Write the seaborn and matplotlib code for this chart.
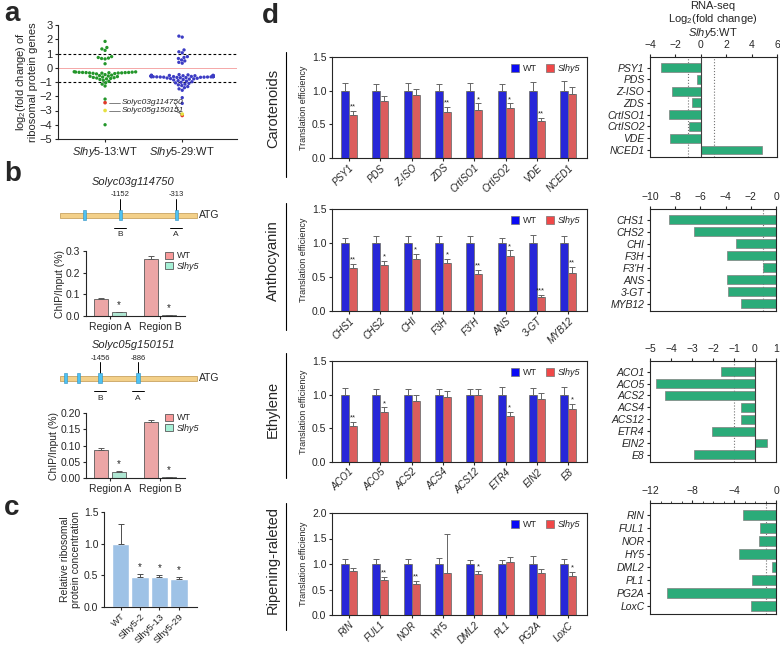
import numpy as np
import pandas as pd
import matplotlib
matplotlib.use('Agg')
import matplotlib.pyplot as plt
from matplotlib.patches import Patch, Rectangle
import seaborn as sns

# ---------------- panel a: log2 fold change of ribosomal protein genes ----------------
rp_13 = [1.85, 1.42, 1.32, 1.22, 0.78, 0.72, 0.68, 0.65, 0.62, 0.28,
         -0.30, -0.32, -0.34, -0.36, -0.38, -0.31, -0.33, -0.35, -0.37, -0.39,
         -0.29, -0.33, -0.36, -0.41, -0.34, -0.28, -0.43,
         -0.48, -0.52, -0.55, -0.58, -0.60, -0.62, -0.65, -0.68, -0.70, -0.72,
         -0.75, -0.78, -0.82, -0.88, -0.95, -1.05, -1.15, -1.28, -2.2, -4.0]
rp_29 = [2.22, 2.15, 1.25, 1.12, 1.05, 0.78, 0.72, 0.65, 0.55, 0.48, 0.38, 0.32,
         -0.55, -0.56, -0.57, -0.58, -0.59, -0.60, -0.61, -0.62, -0.63, -0.64,
         -0.55, -0.57, -0.59, -0.61, -0.63, -0.65, -0.67, -0.58, -0.60, -0.62,
         -0.54, -0.56, -0.60, -0.62, -0.64, -0.66, -0.68, -0.70, -0.58, -0.61,
         -0.53, -0.59, -0.63, -0.65, -0.57, -0.60, -0.62, -0.66, -0.69, -0.72,
         -0.50, -0.52, -0.48, -0.74, -0.76,
         -0.78, -0.80, -0.83, -0.86, -0.90, -0.94, -0.98, -1.02, -1.06, -1.10,
         -1.15, -1.20, -1.25, -1.32, -1.40, -1.48, -1.58, -2.1, -2.5]
special_names = ['Solyc03g114750', 'Solyc05g150151']
special_13 = [-2.45, -3.0]
special_29 = [-3.35, -3.25]
special_colors = ['#E03A2A', '#E6E040']

# ---------------- panel b: ChIP ----------------
chip_regions = ['Region A', 'Region B']
chip1_wt, chip1_wt_err = [0.078, 0.262], [0.006, 0.014]
chip1_mut, chip1_mut_err = [0.017, 0.005], [0.003, 0.001]
chip2_wt, chip2_wt_err = [0.087, 0.172], [0.006, 0.007]
chip2_mut, chip2_mut_err = [0.020, 0.003], [0.002, 0.001]
gene1_boxes = [-1693, -1152, -313]
gene1_sites = [-1152, -313]
gene2_boxes = [-1967, -1777, -1456, -886]
gene2_sites = [-1456, -886]
site_regions = ['B', 'A']

# ---------------- panel c ----------------
strains = ['WT', 'Slhy5-2', 'Slhy5-13', 'Slhy5-29']
rp_conc = [1.0, 0.48, 0.48, 0.44]
rp_conc_err = [0.31, 0.04, 0.025, 0.035]
rp_conc_sig = ['', '*', '*', '*']

# ---------------- panel d: translation efficiency ----------------
car_genes = ['PSY1', 'PDS', 'Z-ISO', 'ZDS', 'CrtISO1', 'CrtISO2', 'VDE', 'NCED1']
car_wt = [1.0, 1.0, 1.0, 1.0, 1.0, 1.0, 1.0, 1.0]
car_wt_err = [0.11, 0.10, 0.11, 0.10, 0.11, 0.10, 0.13, 0.15]
car_mut = [0.64, 0.85, 0.94, 0.68, 0.72, 0.75, 0.55, 0.95]
car_mut_err = [0.06, 0.07, 0.08, 0.08, 0.09, 0.06, 0.05, 0.10]
car_sig = ['**', '', '', '**', '*', '*', '**', '']
car_rna = [-3.1, -0.3, -2.3, -0.7, -2.5, -0.9, -2.4, 4.8]

ant_genes = ['CHS1', 'CHS2', 'CHI', 'F3H', "F3'H", 'ANS', '3-GT', 'MYB12']
ant_wt = [1.0, 1.0, 1.0, 1.0, 1.0, 1.0, 1.0, 1.0]
ant_wt_err = [0.08, 0.10, 0.10, 0.10, 0.10, 0.08, 0.12, 0.10]
ant_mut = [0.63, 0.67, 0.77, 0.70, 0.55, 0.81, 0.21, 0.56]
ant_mut_err = [0.06, 0.07, 0.07, 0.06, 0.05, 0.08, 0.02, 0.09]
ant_sig = ['**', '*', '*', '*', '**', '*', '***', '**']
ant_rna = [-8.5, -6.5, -3.2, -3.9, -1.0, -3.9, -3.8, -2.8]

eth_genes = ['ACO1', 'ACO5', 'ACS2', 'ACS4', 'ACS12', 'ETR4', 'EIN2', 'E8']
eth_wt = [1.0, 1.0, 1.0, 1.0, 1.0, 1.0, 1.0, 1.0]
eth_wt_err = [0.10, 0.09, 0.09, 0.09, 0.09, 0.12, 0.10, 0.11]
eth_mut = [0.53, 0.74, 0.91, 0.96, 1.0, 0.69, 0.94, 0.79]
eth_mut_err = [0.06, 0.07, 0.08, 0.10, 0.08, 0.06, 0.09, 0.07]
eth_sig = ['**', '*', '', '', '', '*', '', '*']
eth_rna = [-1.6, -4.7, -4.3, -0.65, -0.65, -2.05, 0.55, -2.9]

rip_genes = ['RIN', 'FUL1', 'NOR', 'HY5', 'DML2', 'PL1', 'PG2A', 'LoxC']
rip_wt = [1.0, 1.0, 1.0, 1.0, 1.0, 1.0, 1.0, 1.0]
rip_wt_err = [0.09, 0.09, 0.09, 0.12, 0.08, 0.08, 0.15, 0.10]
rip_mut = [0.87, 0.68, 0.61, 0.83, 0.80, 1.03, 0.82, 0.77]
rip_mut_err = [0.06, 0.07, 0.06, 0.76, 0.06, 0.10, 0.08, 0.08]
rip_sig = ['', '**', '**', '', '*', '', '', '*']
rip_rna = [-3.1, -1.5, -1.6, -3.5, -0.4, -2.3, -10.4, -2.4]

BLUE, RED = '#0A0AF5', '#F04848'
TEAL = '#16C07E'
PINK, MINT = '#F89A9A', '#A6F0D6'
LIGHTBLUE = '#92C2F2'

sns.set_style('ticks')
plt.rcParams['font.family'] = ['Liberation Sans', 'DejaVu Sans']
plt.rcParams['mathtext.fontset'] = 'custom'
plt.rcParams['mathtext.rm'] = 'Liberation Sans'
plt.rcParams['mathtext.it'] = 'Liberation Sans:italic'
plt.rcParams['axes.linewidth'] = 0.8
plt.rcParams['xtick.major.width'] = 0.8
plt.rcParams['ytick.major.width'] = 0.8
plt.rcParams['xtick.major.size'] = 2.5
plt.rcParams['ytick.major.size'] = 2.5
plt.rcParams['xtick.major.pad'] = 1.5
plt.rcParams['ytick.major.pad'] = 1.5

W, H = 780, 647
fig = plt.figure(figsize=(W / 100, H / 100), dpi=100)


def add_ax(x0, y0, x1, y1):
    # pixel box (top-left origin) -> figure axes
    return fig.add_axes([x0 / W, 1 - y1 / H, (x1 - x0) / W, (y1 - y0) / H])


ov = fig.add_axes([0, 0, 1, 1], zorder=-1)
ov.set_xlim(0, W)
ov.set_ylim(H, 0)
ov.axis('off')

# panel letters
for letter, (lx, ly) in zip('abcd', [(4, 14), (4, 174), (4, 508), (262, 16)]):
    ov.text(lx, ly, letter, fontsize=20, fontweight='bold', va='center', ha='left')

# ---------------- panel a ----------------
ax_a = add_ax(58, 25, 237, 139)
df_a = pd.DataFrame({'grp': ['13'] * len(rp_13) + ['29'] * len(rp_29),
                     'lfc': rp_13 + rp_29})
sns.swarmplot(data=df_a, x='grp', y='lfc', hue='grp', palette=['#23962A', '#3C3CC4'],
              size=2.4, linewidth=0, legend=False, warn_thresh=1.0, ax=ax_a)
ax_a.axhline(0, color='#F5A8A8', lw=0.7, zorder=0)
ax_a.axhline(1, color='k', lw=0.8, ls=(0, (2.5, 2)), zorder=0)
ax_a.axhline(-1, color='k', lw=0.8, ls=(0, (2.5, 2)), zorder=0)
ax_a.scatter([0, 0], special_13, c=special_colors, s=7, zorder=5, linewidths=0)
ax_a.scatter([1, 1], special_29, c=special_colors, s=7, zorder=5, linewidths=0)
for name, y13, y29 in zip(special_names, special_13, special_29):
    ax_a.plot([0.05, 0.2], [y13, y13], color='0.3', lw=0.5)
    ax_a.text(0.22, y13, name, fontsize=6, style='italic', va='center', ha='left')
    ax_a.plot([0.9, 0.99], [y13, y29], color='0.3', lw=0.5)
ax_a.set_xlim(-0.61, 1.71)
ax_a.set_ylim(-5, 3)
ax_a.set_yticks(range(-5, 4))
ax_a.tick_params(labelsize=8)
ax_a.set_xticks([0, 1])
ax_a.set_xticklabels([r'$\mathit{Slhy5}$-$\mathit{13}$:WT', r'$\mathit{Slhy5}$-$\mathit{29}$:WT'],
                     fontsize=8)
ax_a.set_xlabel('')
ax_a.set_ylabel('log$_2$(fold change) of\nribosomal protein genes', fontsize=8, labelpad=1,
                linespacing=1.1)
sns.despine(ax=ax_a)


# ---------------- panel b ----------------
def draw_gene(y, name, boxes, sites):
    atg = 197
    scale = 15.0
    ov.text(133, y - 33, name, fontsize=8, style='italic', ha='center', va='center')
    ov.add_patch(Rectangle((atg + (-2050) / scale, y - 2.5), 2050 / scale, 5,
                           facecolor='#F3D089', edgecolor='#C9A461', lw=0.6))
    ov.text(atg + 2, y, 'ATG', fontsize=7.5, va='center', ha='left')
    for b in boxes:
        ov.add_patch(Rectangle((atg + b / scale - 1.6, y - 5), 3.2, 10,
                               facecolor='#4EC2F2', edgecolor='#2E8FC0', lw=0.4, zorder=3))
    for s, reg in zip(sites, site_regions):
        px = atg + s / scale
        ov.plot([px, px], [y - 16, y - 5], color='k', lw=0.7)
        ov.text(px, y - 20, str(s), fontsize=5.5, ha='center', va='center')
        ov.plot([px - 6, px + 6], [y + 13, y + 13], color='k', lw=0.7)
        ov.text(px, y + 20, reg, fontsize=6, ha='center', va='center')


def chip_panel(box, wt, wt_err, mut, mut_err, ymax, yticks, fmt):
    ax = add_ax(*box)
    df = pd.DataFrame({'region': chip_regions * 2, 'val': wt + mut,
                       'geno': ['WT'] * 2 + ['Slhy5'] * 2})
    sns.barplot(data=df, x='region', y='val', hue='geno', hue_order=['WT', 'Slhy5'],
                palette=[PINK, MINT], width=0.7, gap=0.2, edgecolor='0.35',
                linewidth=0.6, errorbar=None, ax=ax)
    for cont, errs in zip(ax.containers, [wt_err, mut_err]):
        xs = [b.get_x() + b.get_width() / 2 for b in cont]
        hs = [b.get_height() for b in cont]
        ax.errorbar(xs, hs, yerr=[np.zeros(len(errs)), errs], fmt='none', ecolor='0.35',
                    elinewidth=0.7, capsize=2.5, capthick=0.7)
    for b, e in zip(ax.containers[1], mut_err):
        ax.text(b.get_x() + b.get_width() / 2, b.get_height() + e + ymax * 0.03, '*',
                fontsize=7, ha='center', va='bottom')
    ax.set_xlim(-0.48, 1.5)
    ax.set_ylim(0, ymax)
    ax.set_yticks(yticks)
    ax.set_yticklabels([fmt.format(t) for t in yticks])
    ax.tick_params(labelsize=7.5)
    ax.set_xlabel('')
    ax.set_ylabel('ChIP/Input (%)', fontsize=7.5, labelpad=1)
    leg = ax.legend(handles=[Patch(facecolor=PINK, edgecolor='0.35', lw=0.6),
                             Patch(facecolor=MINT, edgecolor='0.35', lw=0.6)],
                    labels=['WT', 'Slhy5'], loc='upper right', bbox_to_anchor=(1.18, 1.05),
                    frameon=False, fontsize=6.5, handlelength=0.9, handleheight=0.9,
                    labelspacing=0.15, handletextpad=0.4, borderaxespad=0)
    leg.get_texts()[1].set_fontstyle('italic')
    sns.despine(ax=ax)


draw_gene(215, 'Solyc03g114750', gene1_boxes, gene1_sites)
chip_panel((86, 251, 185, 316), chip1_wt, chip1_wt_err, chip1_mut, chip1_mut_err,
           0.3, [0.0, 0.1, 0.2, 0.3], '{:.1f}')
draw_gene(378, 'Solyc05g150151', gene2_boxes, gene2_sites)
chip_panel((86, 413, 185, 478), chip2_wt, chip2_wt_err, chip2_mut, chip2_mut_err,
           0.2, [0.0, 0.05, 0.1, 0.15, 0.2], '{:.2f}')

# ---------------- panel c ----------------
ax_c = add_ax(104, 512, 197, 607)
sns.barplot(x=strains, y=rp_conc, color=LIGHTBLUE, width=0.9, errorbar=None, ax=ax_c)
bars_c = ax_c.containers[0]
xs_c = [b.get_x() + b.get_width() / 2 for b in bars_c]
ax_c.errorbar(xs_c, rp_conc, yerr=[np.zeros(len(rp_conc_err)), rp_conc_err], fmt='none',
              ecolor='0.3', elinewidth=0.7, capsize=2.5, capthick=0.7)
for x, v, e, s in zip(xs_c, rp_conc, rp_conc_err, rp_conc_sig):
    ax_c.text(x, v + e + 0.03, s, fontsize=7, ha='center', va='bottom')
ax_c.set_xlim(-0.85, 3.93)
ax_c.set_ylim(0, 1.5)
ax_c.set_yticks([0.0, 0.5, 1.0, 1.5])
ax_c.tick_params(labelsize=7.5)
ax_c.set_xticks(range(len(strains)))
ax_c.set_xticklabels(strains, rotation=45, ha='right', rotation_mode='anchor', fontsize=6.8)
ax_c.tick_params(axis='x', pad=1)
ax_c.set_ylabel('Relative ribosomal\nprotein concentration', fontsize=7.5, labelpad=2,
                linespacing=1.1)
sns.despine(ax=ax_c)


# ---------------- panel d ----------------
def te_panel(box, genes, wt, wt_err, mut, mut_err, sig, ymax, yticks, upright=()):
    ax = add_ax(*box)
    n = len(genes)
    df = pd.DataFrame({'gene': genes * 2, 'te': wt + mut,
                       'geno': ['WT'] * n + ['Slhy5'] * n})
    sns.barplot(data=df, x='gene', y='te', hue='geno', hue_order=['WT', 'Slhy5'],
                palette=[BLUE, RED], width=0.51, edgecolor='0.45', linewidth=0.6,
                errorbar=None, ax=ax)
    for cont, errs in zip(ax.containers, [wt_err, mut_err]):
        xs = [b.get_x() + b.get_width() / 2 for b in cont]
        hs = [b.get_height() for b in cont]
        ax.errorbar(xs, hs, yerr=[np.zeros(len(errs)), errs], fmt='none', ecolor='0.4',
                    elinewidth=0.7, capsize=2, capthick=0.7)
    for b, e, s in zip(ax.containers[1], mut_err, sig):
        ax.text(b.get_x() + b.get_width() / 2, b.get_height() + e + ymax * 0.005, s,
                fontsize=5.5, ha='center', va='bottom')
    ax.set_xlim(-0.54, 7.6)
    ax.set_ylim(0, ymax)
    ax.set_yticks(yticks)
    ax.set_yticklabels(['{:.1f}'.format(t) for t in yticks])
    ax.tick_params(labelsize=7.5)
    ax.tick_params(axis='x', length=2)
    ax.set_xticks(range(n))
    ax.set_xticklabels(genes, rotation=45, ha='right', rotation_mode='anchor', fontsize=7)
    for lbl in ax.get_xticklabels():
        lbl.set_fontstyle('normal' if lbl.get_text() in upright else 'italic')
    ax.set_xlabel('')
    ax.set_ylabel('Translation efficiency', fontsize=6.5, labelpad=3)
    leg = ax.legend(handles=[Patch(facecolor=BLUE, edgecolor='0.45', lw=0.5),
                             Patch(facecolor=RED, edgecolor='0.45', lw=0.5)],
                    labels=['WT', 'Slhy5'], loc='upper right', ncol=2, frameon=False,
                    fontsize=6.5, handlelength=0.9, handleheight=0.9, columnspacing=1.0,
                    handletextpad=0.4, borderaxespad=0.4)
    leg.get_texts()[1].set_fontstyle('italic')
    return ax


def rna_panel(box, genes, vals, xlim, xticks, dotted, zero_line, minor=None):
    ax = add_ax(*box)
    sns.barplot(x=vals, y=genes, orient='h', color=TEAL, edgecolor='0.5', linewidth=0.5,
                width=0.75, errorbar=None, ax=ax)
    for v in dotted:
        ax.axvline(v, ls=':', color='0.45', lw=0.8, zorder=0)
    if zero_line:
        ax.axvline(0, color='0.25', lw=0.8, zorder=3)
    ax.set_xlim(*xlim)
    ax.set_ylim(7.6, -0.9)
    ax.xaxis.tick_top()
    ax.set_xticks(xticks)
    if minor is not None:
        ax.set_xticks(minor, minor=True)
        ax.tick_params(axis='x', which='minor', length=1.5, width=0.6, top=True, bottom=False)
    ax.tick_params(labelsize=7.5)
    ax.tick_params(axis='x', pad=2.5)
    for lbl in ax.get_yticklabels():
        lbl.set_fontstyle('italic')
    ax.set_xlabel('')
    ax.set_ylabel('')
    return ax


te_panel((332, 57, 587, 158), car_genes, car_wt, car_wt_err, car_mut, car_mut_err,
         car_sig, 1.5, [0.0, 0.5, 1.0, 1.5])
te_panel((332, 209, 587, 311), ant_genes, ant_wt, ant_wt_err, ant_mut, ant_mut_err,
         ant_sig, 1.5, [0.0, 0.5, 1.0, 1.5])
te_panel((332, 361, 587, 462), eth_genes, eth_wt, eth_wt_err, eth_mut, eth_mut_err,
         eth_sig, 1.5, [0.0, 0.5, 1.0, 1.5])
te_panel((332, 513, 587, 615), rip_genes, rip_wt, rip_wt_err, rip_mut, rip_mut_err,
         rip_sig, 2.0, [0.0, 0.5, 1.0, 1.5, 2.0], upright=('HY5',))

rna_panel((650, 57, 777, 157), car_genes, car_rna, (-4, 6), [-4, -2, 0, 2, 4, 6],
          dotted=(-1, 1), zero_line=True)
rna_panel((650, 209, 776, 311), ant_genes, ant_rna, (-10, 0), [-10, -8, -6, -4, -2, 0],
          dotted=(-1,), zero_line=False)
rna_panel((650, 361, 776, 462), eth_genes, eth_rna, (-5, 1), [-5, -4, -3, -2, -1, 0, 1],
          dotted=(-1,), zero_line=True)
rna_panel((650, 503, 776, 614), rip_genes, rip_rna, (-12, 0), [-12, -8, -4, 0],
          dotted=(-1,), zero_line=False, minor=list(range(-12, 1)))

# RNA-seq header
ov.text(713, 6, 'RNA-seq', fontsize=8, ha='center', va='center')
ov.text(713, 19, 'Log$_2$(fold change)', fontsize=8, ha='center', va='center')
ov.text(713, 33, r'$\mathit{Slhy5}$:WT', fontsize=8, ha='center', va='center')

# pathway group labels with bracket lines
groups = ['Carotenoids', 'Anthocyanin', 'Ethylene', 'Ripening-raleted']
group_spans = [(52, 177), (203, 330), (353, 478), (503, 630)]
for g, (y0, y1) in zip(groups, group_spans):
    ov.plot([286, 286], [y0, y1], color='k', lw=0.8)
    ov.text(273, (y0 + y1) / 2 - 6, g, fontsize=10.5, rotation=90, ha='center', va='center')

fig.savefig('out.png', dpi=100)
